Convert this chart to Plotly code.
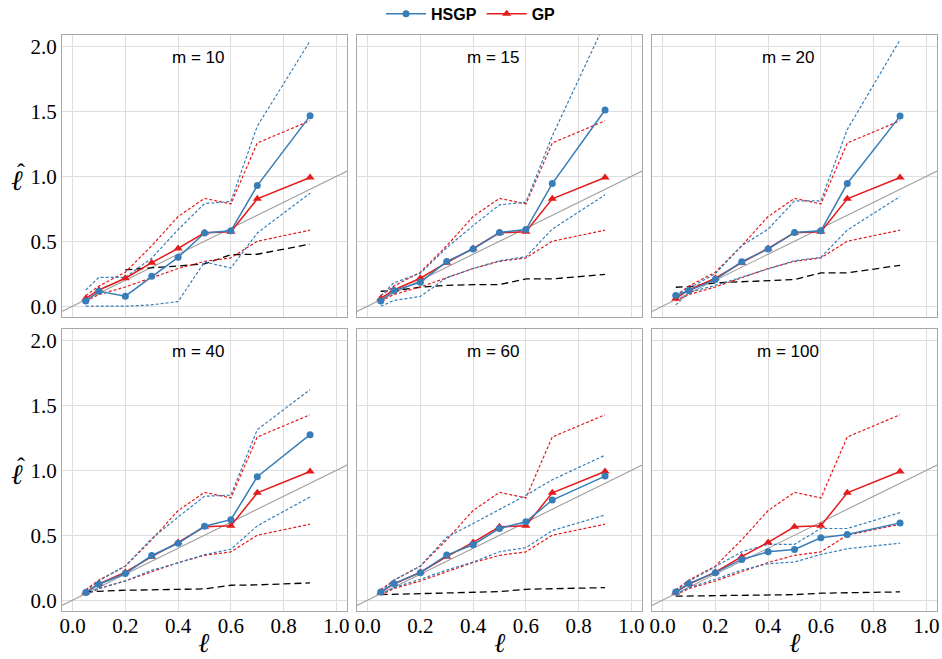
import plotly.graph_objects as go
from plotly.subplots import make_subplots

# ---------------- data ----------------
ell = [0.05, 0.1, 0.2, 0.3, 0.4, 0.5, 0.6, 0.7, 0.9]
m_values = [10, 15, 20, 40, 60, 100]

# GP (identical in every panel)
gp_mean = [0.06, 0.125, 0.215, 0.335, 0.445, 0.565, 0.573, 0.826, 0.99]
gp_upper = [0.08, 0.155, 0.262, 0.465, 0.69, 0.83, 0.787, 1.256, 1.427]
gp_lower = [0.04, 0.09, 0.148, 0.22, 0.29, 0.345, 0.372, 0.5, 0.585]

# HSGP per m
hsgp_mean_10 = [0.04, 0.115, 0.077, 0.23, 0.376, 0.563, 0.58, 0.928, 1.465]
hsgp_upper_10 = [0.125, 0.222, 0.222, 0.37, 0.59, 0.79, 0.806, 1.386, 2.04]
hsgp_lower_10 = [0.0, 0.0, 0.0, 0.01, 0.036, 0.34, 0.294, 0.563, 0.87]
bound_10 = [None, None, 0.28, 0.295, 0.31, 0.325, 0.397, 0.40, 0.478]

hsgp_mean_15 = [0.04, 0.12, 0.184, 0.345, 0.44, 0.568, 0.59, 0.944, 1.51]
hsgp_upper_15 = [0.08, 0.18, 0.253, 0.45, 0.62, 0.78, 0.80, 1.31, 2.18]
hsgp_lower_15 = [0.0, 0.045, 0.075, 0.22, 0.29, 0.35, 0.38, 0.593, 0.857]
bound_15 = [0.115, 0.12, 0.146, 0.16, 0.166, 0.166, 0.21, 0.21, 0.245]

hsgp_mean_20 = [0.082, 0.12, 0.205, 0.343, 0.44, 0.568, 0.58, 0.944, 1.463]
hsgp_upper_20 = [0.09, 0.138, 0.25, 0.465, 0.593, 0.81, 0.81, 1.36, 2.05]
hsgp_lower_20 = [0.01, 0.107, 0.16, 0.222, 0.29, 0.35, 0.376, 0.586, 0.844]
bound_20 = [0.146, 0.15, 0.18, 0.19, 0.2, 0.205, 0.256, 0.256, 0.315]

hsgp_mean_40 = [0.059, 0.123, 0.205, 0.344, 0.438, 0.569, 0.62, 0.951, 1.274]
hsgp_upper_40 = [0.07, 0.149, 0.264, 0.474, 0.64, 0.80, 0.808, 1.313, 1.62]
hsgp_lower_40 = [0.04, 0.09, 0.149, 0.23, 0.287, 0.351, 0.392, 0.572, 0.795]
bound_40 = [0.064, 0.07, 0.077, 0.08, 0.085, 0.087, 0.115, 0.118, 0.133]

hsgp_mean_60 = [0.064, 0.128, 0.212, 0.347, 0.427, 0.552, 0.603, 0.771, 0.955]
hsgp_upper_60 = [0.07, 0.153, 0.263, 0.485, 0.59, 0.697, 0.807, 0.927, 1.116]
hsgp_lower_60 = [0.045, 0.097, 0.161, 0.232, 0.294, 0.373, 0.404, 0.536, 0.656]
bound_60 = [0.043, 0.045, 0.054, 0.057, 0.062, 0.066, 0.084, 0.088, 0.097]

hsgp_mean_100 = [0.064, 0.128, 0.212, 0.314, 0.373, 0.391, 0.48, 0.506, 0.595]
hsgp_upper_100 = [0.07, 0.146, 0.258, 0.373, 0.43, 0.43, 0.552, 0.552, 0.674]
hsgp_lower_100 = [0.045, 0.097, 0.161, 0.232, 0.281, 0.294, 0.352, 0.396, 0.439]
bound_100 = [0.031, 0.032, 0.036, 0.038, 0.041, 0.043, 0.054, 0.057, 0.064]

ref_line = [-0.1, 1.1]

panels = [
    (hsgp_mean_10, hsgp_upper_10, hsgp_lower_10, bound_10),
    (hsgp_mean_15, hsgp_upper_15, hsgp_lower_15, bound_15),
    (hsgp_mean_20, hsgp_upper_20, hsgp_lower_20, bound_20),
    (hsgp_mean_40, hsgp_upper_40, hsgp_lower_40, bound_40),
    (hsgp_mean_60, hsgp_upper_60, hsgp_lower_60, bound_60),
    (hsgp_mean_100, hsgp_upper_100, hsgp_lower_100, bound_100),
]

BLUE = "#377EB8"
RED = "#E41A1C"
GRID = "#DEDEDE"
BORDER = "#A8A8A8"
SERIF = "Liberation Serif"
SANS = "Liberation Sans"

fig = make_subplots(rows=2, cols=3, horizontal_spacing=10 / 875, vertical_spacing=12 / 576)

for i, (hm, hu, hl, bd) in enumerate(panels):
    r, c = i // 3 + 1, i % 3 + 1
    first = i == 0
    fig.add_trace(go.Scatter(x=ref_line, y=ref_line, mode="lines",
                             line=dict(color="#9E9E9E", width=1.1),
                             showlegend=False, hoverinfo="skip"), row=r, col=c)
    fig.add_trace(go.Scatter(x=ell, y=bd, mode="lines",
                             line=dict(color="black", width=1.3, dash="7px,4px"),
                             showlegend=False, connectgaps=False), row=r, col=c)
    for q in (gp_upper, gp_lower):
        fig.add_trace(go.Scatter(x=ell, y=q, mode="lines",
                                 line=dict(color=RED, width=1.2, dash="3px,2px"),
                                 showlegend=False), row=r, col=c)
    for q in (hu, hl):
        fig.add_trace(go.Scatter(x=ell, y=q, mode="lines",
                                 line=dict(color=BLUE, width=1.2, dash="3px,2px"),
                                 showlegend=False), row=r, col=c)
    fig.add_trace(go.Scatter(x=ell, y=gp_mean, mode="lines+markers", name="<b>GP</b>",
                             line=dict(color=RED, width=1.5),
                             marker=dict(symbol="triangle-up", size=8, color=RED),
                             showlegend=first, legendrank=2), row=r, col=c)
    fig.add_trace(go.Scatter(x=ell, y=hm, mode="lines+markers", name="<b>HSGP</b>",
                             line=dict(color=BLUE, width=1.5),
                             marker=dict(symbol="circle", size=7, color=BLUE),
                             showlegend=first, legendrank=1), row=r, col=c)

    xa = "x" if i == 0 else f"x{i + 1}"
    ya = "y" if i == 0 else f"y{i + 1}"
    fig.add_annotation(text=f"m = {m_values[i]}", xref=f"{xa} domain", yref=f"{ya} domain",
                       x=0.477, y=0.919, showarrow=False, xanchor="center", yanchor="middle",
                       font=dict(family=SANS, size=17, color="black"))
    if c == 1:
        fig.add_annotation(text="ℓ", xref="paper", yref=f"{ya} domain",
                           x=-0.052, y=0.485, showarrow=False, xanchor="center", yanchor="middle",
                           font=dict(family=SERIF, size=28, color="black", style="italic"))
        fig.add_annotation(text="ˆ", xref="paper", yref=f"{ya} domain",
                           x=-0.047, y=0.515, showarrow=False, xanchor="center", yanchor="middle",
                           font=dict(family=SERIF, size=24, color="black"))
    if r == 2:
        fig.add_annotation(text="ℓ", xref=f"{xa} domain", yref="paper",
                           x=0.5, y=-0.055, showarrow=False, xanchor="center", yanchor="middle",
                           font=dict(family=SERIF, size=27, color="black", style="italic"))

fig.update_xaxes(range=[-0.04, 1.04], dtick=0.2, tick0=0, tickformat=".1f",
                 showgrid=True, gridcolor=GRID, gridwidth=1, zeroline=False,
                 showline=True, linecolor=BORDER, linewidth=1.2, mirror=True,
                 ticks="", ticklabelstandoff=-4,
                 tickfont=dict(family=SERIF, size=21, color="black"))
fig.update_yaxes(range=[-0.083, 2.087], dtick=0.5, tick0=0, tickformat=".1f",
                 showgrid=True, gridcolor=GRID, gridwidth=1, zeroline=False,
                 showline=True, linecolor=BORDER, linewidth=1.2, mirror=True,
                 ticks="", tickfont=dict(family=SERIF, size=21, color="black"))
for r in (1, 2):
    for c in (2, 3):
        fig.update_yaxes(showticklabels=False, row=r, col=c)
for c in (1, 2, 3):
    fig.update_xaxes(showticklabels=False, row=1, col=c)

fig.update_layout(
    width=942, height=659,
    margin=dict(l=62, r=5, t=35, b=48, autoexpand=False),
    paper_bgcolor="white", plot_bgcolor="white",
    legend=dict(orientation="h", xref="container", yref="container", x=0.5, y=0.979,
                xanchor="center", yanchor="middle",
                font=dict(family=SANS, size=16, color="black"),
                itemwidth=40, traceorder="normal"),
)

fig.write_html("out.html", config={"displayModeBar": False},
               post_script="document.body.style.margin='0';document.body.style.overflow='hidden';")
